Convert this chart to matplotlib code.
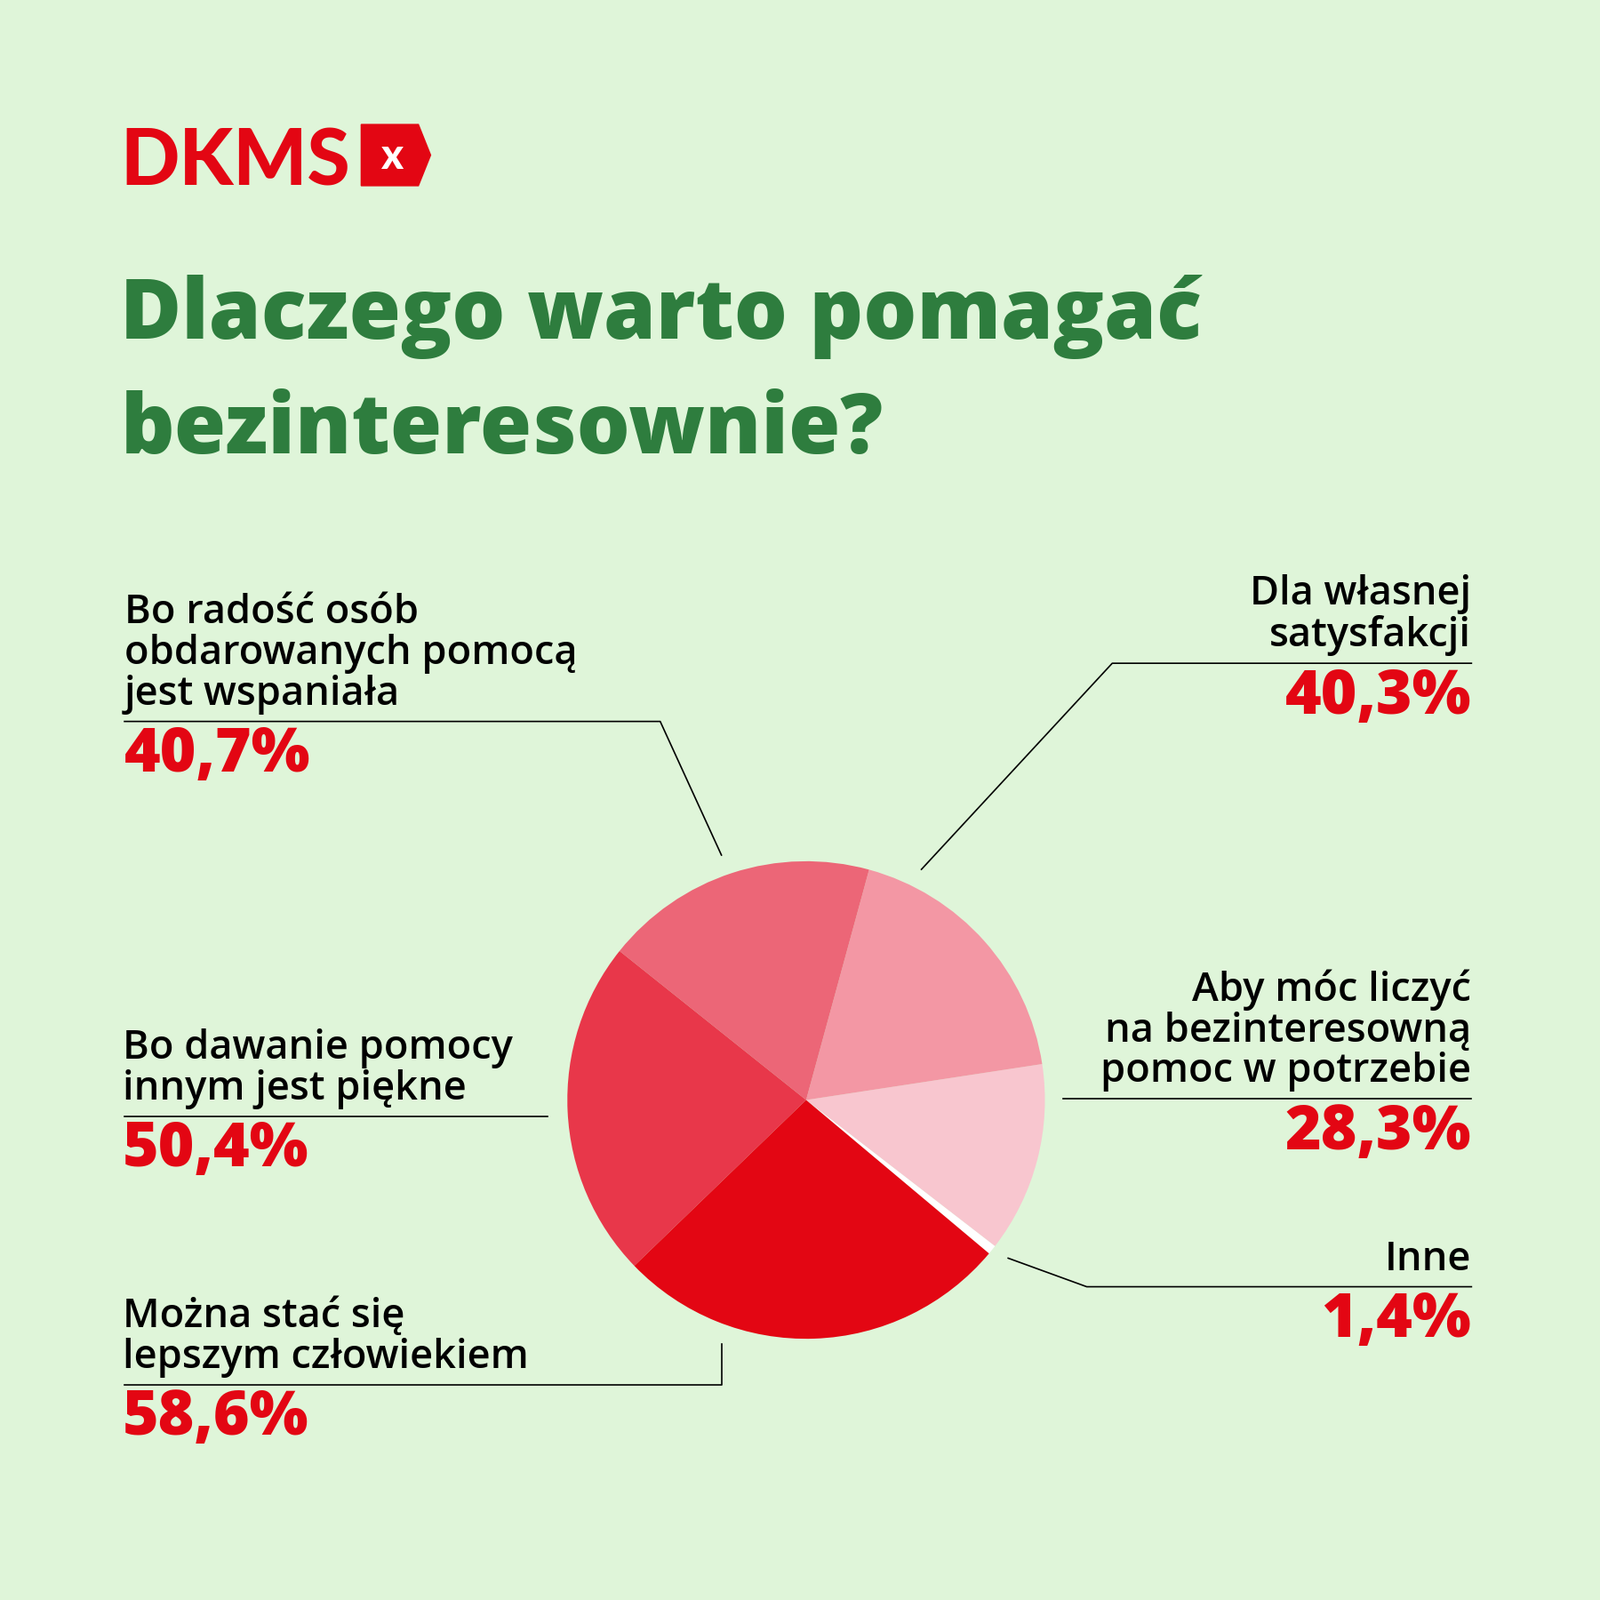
import matplotlib
matplotlib.use("Agg")
import matplotlib.pyplot as plt
from matplotlib.lines import Line2D
from matplotlib.patches import Polygon

labels = ["Inne", "Aby móc liczyć\nna bezinteresowną\npomoc w potrzebie", "Dla własnej\nsatysfakcji",
          "Bo radość osób\nobdarowanych pomocą\njest wspaniała", "Bo dawanie pomocy\ninnym jest piękne",
          "Można stać się\nlepszym człowiekiem"]
values = [1.4, 28.3, 40.3, 40.7, 50.4, 58.6]
pct = ["1,4%", "28,3%", "40,3%", "40,7%", "50,4%", "58,6%"]
colors = ["#ffffff", "#f8c6cf", "#f397a4", "#ec6677", "#e8374a", "#e30613"]

BG = "#dff5d9"; GREEN = "#2e7d3e"; RED = "#e30613"; FONT = "Open Sans"
S = 1568.0
def P(x, y): return (x / S, 1 - y / S)

fig = plt.figure(figsize=(18, 18), dpi=100, facecolor=BG)

# pie
cx, cy, r = 790, 1078, 234
x0, y0 = P(cx - r, cy + r)
ax = fig.add_axes([x0, y0, 2 * r / S, 2 * r / S])
ax.pie(values, colors=colors, startangle=-40, counterclock=True, radius=1,
       wedgeprops=dict(linewidth=0))
ax.set_xlim(-1, 1); ax.set_ylim(-1, 1); ax.set_aspect("equal"); ax.axis("off")

# logo
fig.text(*P(118, 182), "DKMS", color=RED, fontsize=63, fontweight="heavy", family="Lato", va="baseline")
poly = Polygon([P(354, 122), P(410, 122), P(422, 152), P(410, 182), P(354, 182)],
               closed=True, transform=fig.transFigure, color=RED)
fig.patches.append(poly)
fig.text(*P(384, 153), "x", color="white", fontsize=34, fontweight="heavy", family="Lato", ha="center", va="center")

# title
fig.text(*P(118, 332), "Dlaczego warto pomagać", color=GREEN, fontsize=68, fontweight="heavy", family=FONT, va="baseline")
fig.text(*P(118, 444), "bezinteresownie?", color=GREEN, fontsize=68, fontweight="heavy", family=FONT, va="baseline")

def line(pts):
    xs = [P(*p)[0] for p in pts]; ys = [P(*p)[1] for p in pts]
    fig.add_artist(Line2D(xs, ys, color="black", lw=1.2, transform=fig.transFigure))

LFS = 32.5; PFS = 50
def label(x, ybottom, txt, p, ptop, ha):
    fig.text(*P(x, ybottom), txt, fontsize=LFS, fontweight="semibold", family=FONT, ha=ha, va="bottom", linespacing=1.02)
    fig.text(*P(x, ptop), p, fontsize=PFS, fontweight="heavy", family=FONT, color=RED, ha=ha, va="top")

# Bo radość
label(122, 700, labels[3], pct[3], 710, "left")
line([(122, 707), (647, 707), (707, 838)])
# Dla
label(1442, 643, labels[2], pct[2], 653, "right")
line([(1442, 650), (1090, 650), (903, 852)])
# Bo dawanie
label(120, 1087, labels[4], pct[4], 1097, "left")
line([(122, 1094), (537, 1094)])
# Aby
label(1442, 1070, labels[1], pct[1], 1080, "right")
line([(1042, 1077), (1442, 1077)])
# Inne
label(1442, 1254, labels[0], pct[0], 1264, "right")
line([(988, 1233), (1065, 1261), (1442, 1261)])
# Można
label(120, 1350, labels[5], pct[5], 1360, "left")
line([(122, 1357), (707, 1357), (707, 1317)])

fig.savefig("out.png", dpi=100, facecolor=BG)
